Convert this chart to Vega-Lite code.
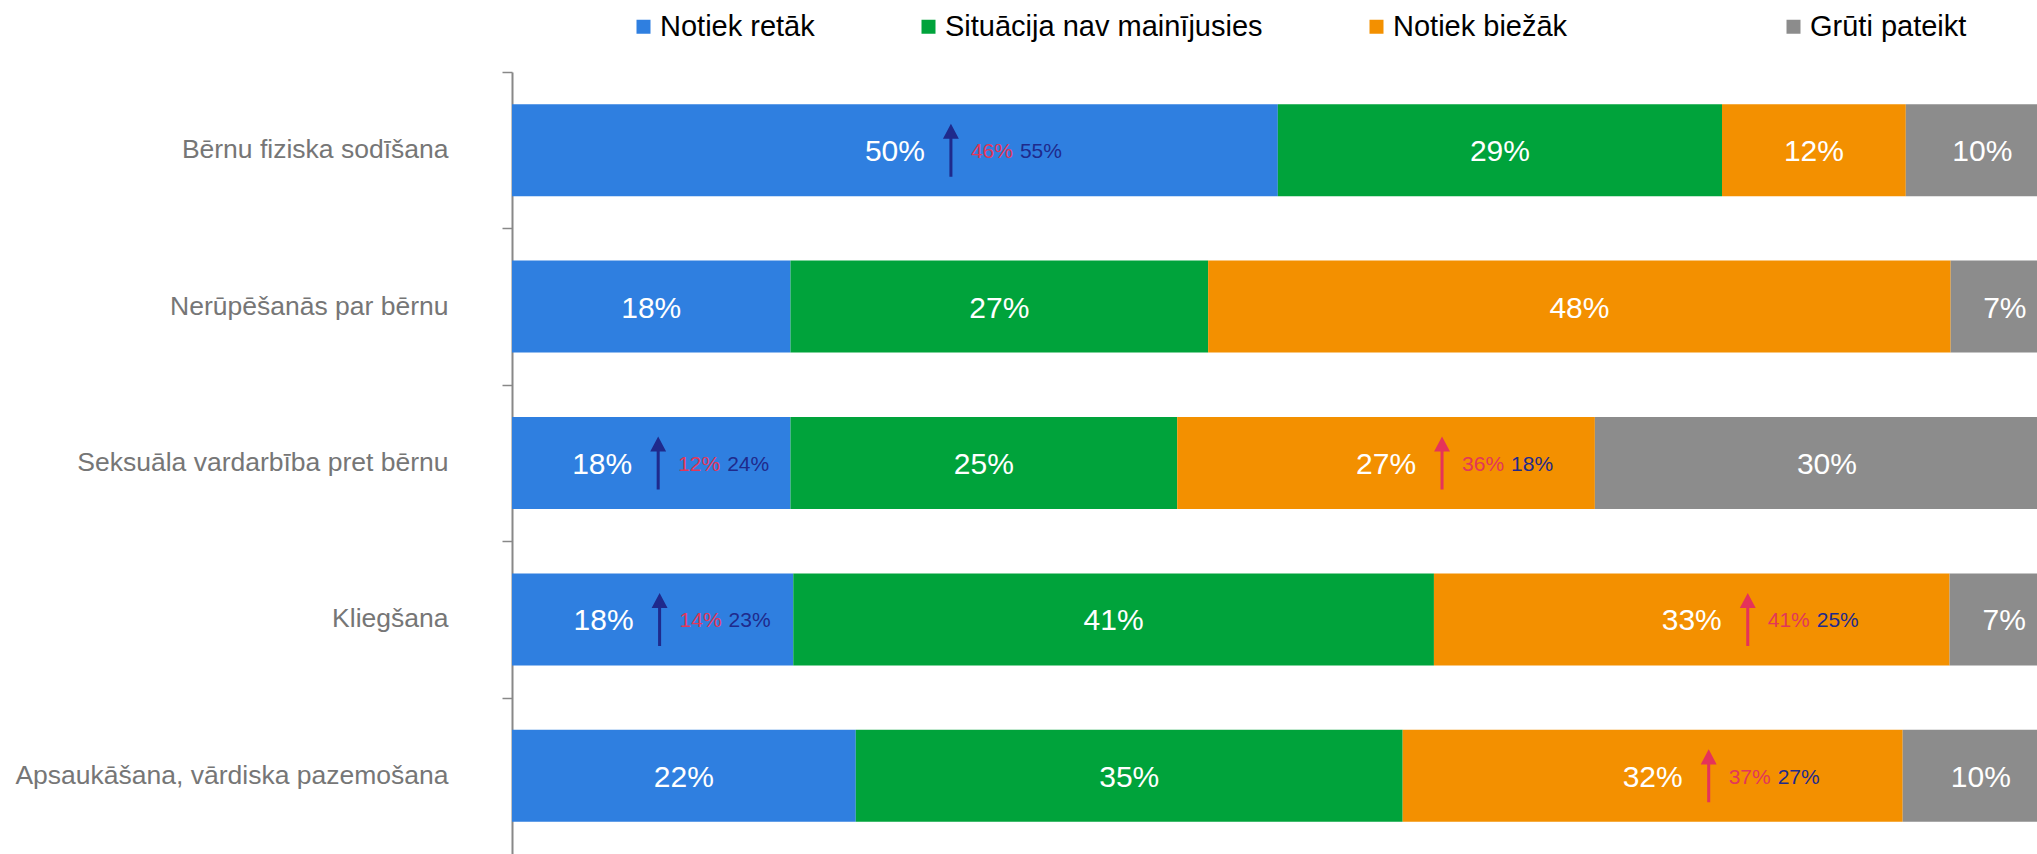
{
  "$schema": "https://vega.github.io/schema/vega-lite/v6.json",
  "width": 1525,
  "height": 782,
  "autosize": {"type": "none"},
  "padding": {"left": 512, "top": 72, "right": 0, "bottom": 0},
  "background": "white",
  "config": {"view": {"stroke": null}, "font": "Liberation Sans"},
  "data": {
    "values": [
      {"cat": "Bērnu fiziska sodīšana", "resp": "Notiek retāk", "order": 0, "value": 50, "label": "50%", "a": "46%", "b": "55%"},
      {"cat": "Bērnu fiziska sodīšana", "resp": "Situācija nav mainījusies", "order": 1, "value": 29, "label": "29%"},
      {"cat": "Bērnu fiziska sodīšana", "resp": "Notiek biežāk", "order": 2, "value": 12, "label": "12%"},
      {"cat": "Bērnu fiziska sodīšana", "resp": "Grūti pateikt", "order": 3, "value": 10, "label": "10%"},
      {"cat": "Nerūpēšanās par bērnu", "resp": "Notiek retāk", "order": 0, "value": 18, "label": "18%"},
      {"cat": "Nerūpēšanās par bērnu", "resp": "Situācija nav mainījusies", "order": 1, "value": 27, "label": "27%"},
      {"cat": "Nerūpēšanās par bērnu", "resp": "Notiek biežāk", "order": 2, "value": 48, "label": "48%"},
      {"cat": "Nerūpēšanās par bērnu", "resp": "Grūti pateikt", "order": 3, "value": 7, "label": "7%"},
      {"cat": "Seksuāla vardarbība pret bērnu", "resp": "Notiek retāk", "order": 0, "value": 18, "label": "18%", "a": "12%", "b": "24%"},
      {"cat": "Seksuāla vardarbība pret bērnu", "resp": "Situācija nav mainījusies", "order": 1, "value": 25, "label": "25%"},
      {"cat": "Seksuāla vardarbība pret bērnu", "resp": "Notiek biežāk", "order": 2, "value": 27, "label": "27%", "a": "36%", "b": "18%"},
      {"cat": "Seksuāla vardarbība pret bērnu", "resp": "Grūti pateikt", "order": 3, "value": 30, "label": "30%"},
      {"cat": "Kliegšana", "resp": "Notiek retāk", "order": 0, "value": 18, "label": "18%", "a": "14%", "b": "23%"},
      {"cat": "Kliegšana", "resp": "Situācija nav mainījusies", "order": 1, "value": 41, "label": "41%"},
      {"cat": "Kliegšana", "resp": "Notiek biežāk", "order": 2, "value": 33, "label": "33%", "a": "41%", "b": "25%"},
      {"cat": "Kliegšana", "resp": "Grūti pateikt", "order": 3, "value": 7, "label": "7%"},
      {"cat": "Apsaukāšana, vārdiska pazemošana", "resp": "Notiek retāk", "order": 0, "value": 22, "label": "22%"},
      {"cat": "Apsaukāšana, vārdiska pazemošana", "resp": "Situācija nav mainījusies", "order": 1, "value": 35, "label": "35%"},
      {"cat": "Apsaukāšana, vārdiska pazemošana", "resp": "Notiek biežāk", "order": 2, "value": 32, "label": "32%", "a": "37%", "b": "27%"},
      {"cat": "Apsaukāšana, vārdiska pazemošana", "resp": "Grūti pateikt", "order": 3, "value": 10, "label": "10%"}
    ]
  },
  "transform": [
    {"stack": "value", "groupby": ["cat"], "sort": [{"field": "order", "order": "ascending"}], "offset": "normalize", "as": ["v0", "v1"]},
    {"calculate": "(datum.v0 + datum.v1) / 2", "as": "mid"},
    {"calculate": "datum.a && (datum.v1 - datum.v0) < 0.2 ? datum.mid - 0.0317 : datum.mid", "as": "lpos"}
  ],
  "encoding": {
    "y": {
      "field": "cat",
      "type": "nominal",
      "sort": ["Bērnu fiziska sodīšana", "Nerūpēšanās par bērnu", "Seksuāla vardarbība pret bērnu", "Kliegšana", "Apsaukāšana, vārdiska pazemošana"],
      "scale": {"paddingInner": 0.412, "paddingOuter": 0.206},
      "axis": {
        "title": null,
        "labelFont": "Liberation Sans",
        "labelFontSize": 26.5,
        "labelColor": "#767676",
        "labelPadding": 54,
        "labelLimit": 800,
        "tickSize": 10,
        "tickColor": "#888888",
        "tickWidth": 1.5,
        "domainColor": "#888888",
        "domainWidth": 2,
        "bandPosition": 0,
        "tickOffset": -32.2,
        "labelOffset": 31.6
      }
    }
  },
  "layer": [
    {
      "mark": {"type": "bar", "clip": true},
      "encoding": {
        "x": {"field": "v0", "type": "quantitative", "scale": {"domain": [0, 0.9858], "nice": false, "zero": false}, "axis": null},
        "x2": {"field": "v1"},
        "color": {
          "field": "resp",
          "type": "nominal",
          "scale": {
            "domain": ["Notiek retāk", "Situācija nav mainījusies", "Notiek biežāk", "Grūti pateikt"],
            "range": ["#2f7fe0", "#00a33b", "#f39000", "#8c8c8c"]
          },
          "legend": {
            "orient": "none",
            "direction": "horizontal",
            "legendX": 117,
            "legendY": -60,
            "title": null,
            "padding": 0,
            "symbolType": "square",
            "symbolSize": 196,
            "symbolStrokeWidth": 0,
            "symbolOpacity": 1,
            "labelFont": "Liberation Sans",
            "labelFontSize": 29,
            "labelColor": "#000000",
            "labelOffset": 2,
            "columnPadding": 99,
            "labelLimit": 800,
            "labelExpr": "datum.label == 'Notiek biežāk' ? datum.label + '\u00a0\u00a0\u00a0\u00a0\u00a0\u00a0\u00a0\u00a0\u00a0\u00a0\u00a0\u00a0\u00a0\u00a0\u200b' : datum.label"
          }
        }
      }
    },
    {
      "mark": {"type": "text", "color": "white", "fontSize": 30, "font": "Liberation Sans", "align": "center", "baseline": "middle", "dy": 2},
      "encoding": {
        "x": {"field": "lpos", "type": "quantitative"},
        "text": {"field": "label"}
      }
    },
    {
      "transform": [{"filter": "datum.a"}],
      "mark": {
        "type": "point",
        "shape": "M0,-1L0.3,-0.43L0.057,-0.43L0.057,1L-0.057,1L-0.057,-0.43L-0.3,-0.43Z",
        "size": 2809,
        "filled": true,
        "opacity": 1,
        "strokeWidth": 0,
        "xOffset": 56
      },
      "encoding": {
        "x": {"field": "lpos", "type": "quantitative"},
        "color": {"condition": {"test": "datum.resp === 'Notiek retāk'", "value": "#1f2a8c"}, "value": "#e5335a"}
      }
    },
    {
      "transform": [{"filter": "datum.a"}],
      "mark": {"type": "text", "color": "#e2375a", "fontSize": 21, "font": "Liberation Sans", "align": "left", "baseline": "middle", "dx": 76, "dy": 2},
      "encoding": {
        "x": {"field": "lpos", "type": "quantitative"},
        "text": {"field": "a"}
      }
    },
    {
      "transform": [{"filter": "datum.a"}],
      "mark": {"type": "text", "color": "#1f2a8c", "fontSize": 21, "font": "Liberation Sans", "align": "left", "baseline": "middle", "dx": 125, "dy": 2},
      "encoding": {
        "x": {"field": "lpos", "type": "quantitative"},
        "text": {"field": "b"}
      }
    }
  ]
}
